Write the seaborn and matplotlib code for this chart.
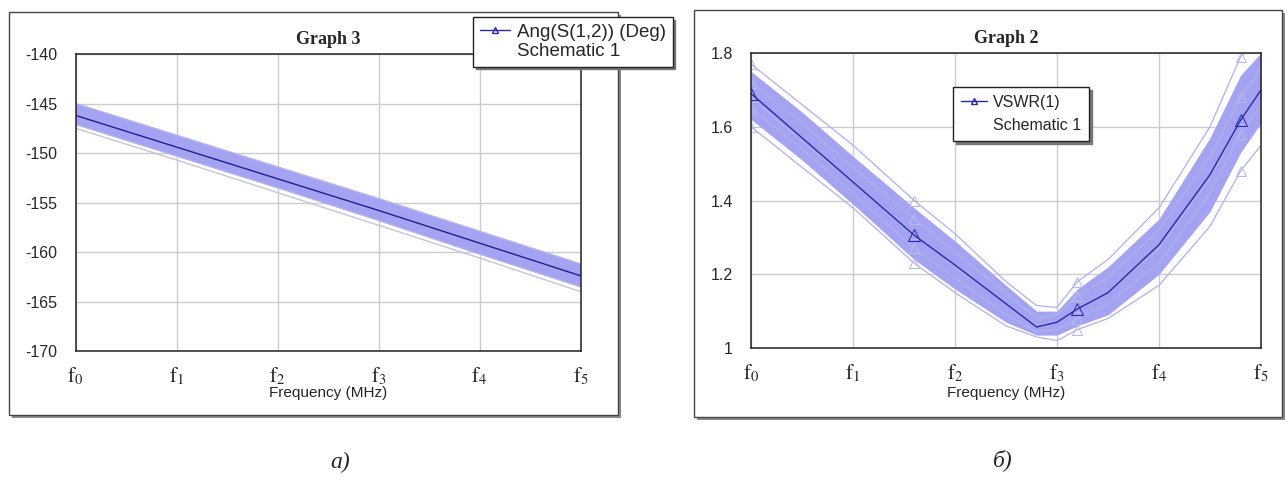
import matplotlib
matplotlib.use('Agg')
import matplotlib.pyplot as plt
from matplotlib.lines import Line2D
from matplotlib.patches import Rectangle
import pandas as pd
import seaborn as sns

sns.set_style('white')
plt.rcParams['font.family'] = ['Liberation Sans', 'DejaVu Sans']
plt.rcParams['mathtext.fontset'] = 'stix'
plt.rcParams['axes.unicode_minus'] = False

W, H = 1287, 498

freq_ticks = [0, 1, 2, 3, 4, 5]
freq_labels = [r'$\mathrm{f}_{%d}$' % i for i in range(6)]

# Graph 3 - Ang(S(1,2)), deg
ang_x = [0, 1, 2, 3, 4, 5]
ang_nominal = [-146.2, -149.4, -152.6, -155.8, -159.1, -162.4]
ang_band_hi = [-145.0, -148.2, -151.4, -154.6, -157.9, -161.2]
ang_band_lo = [-147.1, -150.3, -153.5, -156.8, -160.2, -163.5]
ang_outlier = [-147.5, -150.7, -154.0, -157.3, -160.6, -164.0]
ang_yticks = [-170, -165, -160, -155, -150, -145, -140]

# Graph 2 - VSWR(1)
vswr_x = [0, 0.5, 1, 1.6, 2, 2.5, 2.8, 3, 3.2, 3.5, 4, 4.5, 4.8, 5]
vswr_nominal = [1.69, 1.57, 1.45, 1.306, 1.225, 1.12, 1.057, 1.07, 1.106, 1.15, 1.28, 1.47, 1.618, 1.70]
vswr_band_hi = [1.75, 1.64, 1.52, 1.38, 1.29, 1.17, 1.10, 1.10, 1.16, 1.22, 1.35, 1.57, 1.74, 1.80]
vswr_band_lo = [1.62, 1.51, 1.39, 1.24, 1.16, 1.07, 1.035, 1.035, 1.06, 1.09, 1.20, 1.37, 1.53, 1.61]
vswr_traces = {
    'hi': [1.77, 1.66, 1.55, 1.40, 1.31, 1.18, 1.115, 1.11, 1.18, 1.24, 1.38, 1.60, 1.79, 1.84],
    'mid_hi': [1.72, 1.61, 1.49, 1.35, 1.26, 1.15, 1.08, 1.09, 1.14, 1.19, 1.32, 1.52, 1.68, 1.76],
    'mid': [1.68, 1.56, 1.45, 1.31, 1.22, 1.12, 1.06, 1.07, 1.11, 1.15, 1.27, 1.46, 1.62, 1.70],
    'mid_lo': [1.65, 1.54, 1.42, 1.27, 1.19, 1.09, 1.045, 1.05, 1.08, 1.12, 1.23, 1.42, 1.58, 1.66],
    'lo': [1.60, 1.49, 1.38, 1.23, 1.15, 1.06, 1.03, 1.02, 1.05, 1.08, 1.17, 1.33, 1.48, 1.55],
}
vswr_marks = [0, 3, 8, 12]
vswr_yticks = [1, 1.2, 1.4, 1.6, 1.8]

dark = '#2a2aa8'
band = '#a3a3f2'
light = '#b0b0f0'

fig = plt.figure(figsize=(W / 100, H / 100), dpi=100)


def frame(x0, y0, x1, y1):
    # box with grey drop shadow, pixel coords from top-left
    fig.add_artist(Rectangle(((x0 + 3) / W, 1 - (y1 + 3) / H), (x1 - x0) / W, (y1 - y0) / H,
                             transform=fig.transFigure, facecolor='#8a8a8a', edgecolor='none', zorder=-3))
    fig.add_artist(Rectangle((x0 / W, 1 - y1 / H), (x1 - x0) / W, (y1 - y0) / H,
                             transform=fig.transFigure, facecolor='white', edgecolor='#444444',
                             lw=1.0, zorder=-2))


def style_axes(ax, yticks, ylim, title, label_y):
    ax.set_xlim(0, 5)
    ax.set_ylim(*ylim)
    ax.set_xticks(freq_ticks)
    ax.set_xticklabels(freq_labels, fontsize=15)
    ax.set_yticks(yticks)
    ax.tick_params(axis='y', length=0, pad=13, labelsize=11.5)
    ax.tick_params(axis='x', length=0, pad=10)
    ax.grid(True, color='#cccccc', lw=1)
    for s in ax.spines.values():
        s.set_color('#222222')
        s.set_linewidth(1.1)
    ax.set_ylabel('')
    ax.set_xlabel('Frequency (MHz)', fontsize=11)
    ax.xaxis.set_label_coords(0.5, label_y)
    ax.xaxis.label.set_va('center')
    ax.text(0.5, 1.05, title, transform=ax.transAxes, ha='center', va='center',
            fontsize=13, fontweight='bold', family='Liberation Serif')


def legend(ax, label, x, y, size, spacing, bpad):
    h = Line2D([], [], color=dark, lw=1, marker='^', mfc='none', ms=5)
    blank = Line2D([], [], ls='none')
    leg = ax.legend([h, blank], [label, 'Schematic 1'], loc='upper left',
                    bbox_to_anchor=(x / W, 1 - y / H), bbox_transform=fig.transFigure,
                    fancybox=False, shadow={'color': '#777777', 'alpha': 1}, framealpha=1,
                    edgecolor='#222222', fontsize=size, handlelength=1.6, handletextpad=0.4,
                    labelspacing=spacing, borderpad=bpad, borderaxespad=0)
    leg.get_frame().set_linewidth(1.0)


frame(9, 12, 618, 415)
frame(694, 10, 1282, 417)

# ---- Graph 3 ----
ax1 = fig.add_axes([75.5 / W, (H - 351) / H, 505 / W, 297 / H])
ang_df = pd.DataFrame({'x': ang_x * 3,
                       'value': ang_band_hi + ang_band_lo + ang_outlier,
                       'trace': ['hi'] * 6 + ['lo'] * 6 + ['out'] * 6})
ax1.fill_between(ang_x, ang_band_lo, ang_band_hi, color=band, lw=0)
sns.lineplot(data=ang_df[ang_df.trace != 'out'], x='x', y='value', units='trace', estimator=None,
             color=light, lw=1, ax=ax1)
sns.lineplot(data=ang_df[ang_df.trace == 'out'], x='x', y='value', units='trace', estimator=None,
             color='#c4c4dc', lw=1, ax=ax1)
sns.lineplot(x=ang_x, y=ang_nominal, color='#202090', lw=1, ax=ax1)
style_axes(ax1, ang_yticks, (-170, -140), 'Graph 3', -0.141)
legend(ax1, 'Ang(S(1,2)) (Deg)', 473, 17, 13.5, 0.12, 0.35)

# ---- Graph 2 ----
ax2 = fig.add_axes([751 / W, (H - 348) / H, 510 / W, 295 / H])
ax2.fill_between(vswr_x, vswr_band_lo, vswr_band_hi, color=band, lw=0)
vswr_df = pd.DataFrame([{'x': xv, 'value': v, 'trace': k}
                        for k, vals in vswr_traces.items() for xv, v in zip(vswr_x, vals)])
sns.lineplot(data=vswr_df, x='x', y='value', units='trace', estimator=None, color=light, lw=0.9,
             marker='^', ms=7, mfc='none', mec='#b8b8ee', markevery=vswr_marks, ax=ax2)
sns.lineplot(x=vswr_x, y=vswr_nominal, color=dark, lw=1, marker='^', ms=8, mfc='none', mec=dark,
             markevery=vswr_marks, ax=ax2)
style_axes(ax2, vswr_yticks, (1, 1.8), 'Graph 2', -0.152)
ax2.set_yticklabels(['1', '1.2', '1.4', '1.6', '1.8'])
legend(ax2, 'VSWR(1)', 953, 87, 11.5, 0.5, 0.5)

fig.text(340 / W, 1 - 462 / H, 'а)', fontsize=17, style='italic', family='Liberation Serif',
         ha='center', va='center')
fig.text(1003 / W, 1 - 460 / H, 'б)', fontsize=17, style='italic', family='Liberation Serif',
         ha='center', va='center')

fig.savefig('out.png', dpi=100, facecolor='white')
